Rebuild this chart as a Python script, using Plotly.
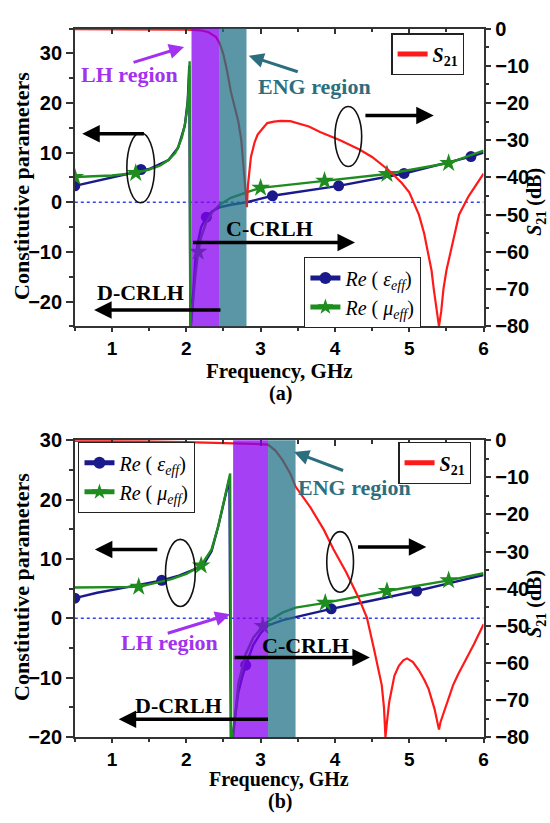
import plotly.graph_objects as go

# ---------------- data : panel (a) ----------------
s21_a_x = [0.5, 1.0, 1.5, 2.0, 2.2, 2.3, 2.4, 2.45, 2.5, 2.55, 2.6, 2.65, 2.7, 2.74, 2.78, 2.8, 2.815,
           2.83, 2.87, 2.92, 2.96, 3.03, 3.09, 3.18, 3.27, 3.4, 3.5, 3.65, 3.8, 4.07, 4.33, 4.5, 4.72,
           4.9, 5.0, 5.13, 5.2, 5.25, 5.3, 5.33, 5.37, 5.40, 5.43, 5.46, 5.5, 5.56, 5.62, 5.67, 5.8, 5.9, 6.0]
s21_a_y = [-0.2, -0.2, -0.2, -0.3, -0.5, -1.0, -2.3, -4.0, -7.0, -11.5, -17, -21, -25, -30, -39, -43, -48,
           -42, -34.5, -30.5, -28.5, -26.8, -25.4, -25.0, -24.8, -24.9, -25.4, -26.3, -27.8, -30, -32.5, -34.5, -38,
           -41.5, -44, -50, -55, -60, -65, -70, -76, -80, -76, -70, -65, -60, -55, -50, -45, -42, -39]

eps_a_x = [0.5, 0.7, 0.9, 1.1, 1.3, 1.5, 1.76, 1.89, 1.98, 2.02, 2.04, 2.055, 2.09, 2.12, 2.15, 2.2,
           2.27, 2.35, 2.45, 2.6, 2.81, 3.16, 4.05, 4.93, 5.83, 6.0]
eps_a_y = [3.3, 4.0, 4.6, 5.3, 6.1, 6.7, 8.5, 11.0, 15.4, 20.5, 27.5, -26, -19, -12, -8.5, -5.0,
           -3.0, -1.8, -1.0, -0.5, 0.0, 1.3, 3.3, 5.8, 9.2, 10.0]
eps_a_mx = [0.5, 1.39, 2.27, 3.16, 4.05, 4.93, 5.83]
eps_a_my = [3.3, 6.6, -3.0, 1.3, 3.3, 5.8, 9.2]

mu_a_x = [0.5, 0.8, 1.0, 1.32, 1.5, 1.65, 1.76, 1.85, 1.89, 1.94, 1.98, 2.01, 2.03, 2.045, 2.055,
          2.08, 2.12, 2.16, 2.2, 2.27, 2.35, 2.45, 2.6, 2.81, 3.0, 3.86, 4.7, 5.53, 6.0]
mu_a_y = [5.1, 5.2, 5.4, 5.9, 6.6, 7.4, 8.5, 9.9, 11.1, 13.0, 15.6, 18.5, 22.5, 28.4, -26,
          -22, -15, -10, -7.0, -4.0, -2.0, -0.5, 0.9, 2.0, 2.9, 4.3, 5.7, 7.9, 10.4]
mu_a_mx = [0.5, 1.32, 2.16, 3.0, 3.86, 4.7, 5.53]
mu_a_my = [5.1, 5.9, -10.0, 2.9, 4.3, 5.7, 7.9]

# ---------------- data : panel (b) ----------------
s21_b_x = [0.5, 1.0, 1.5, 2.0, 2.3, 2.6, 2.9, 3.05, 3.1, 3.2, 3.3, 3.4, 3.47, 3.67, 3.85, 3.98, 4.15,
           4.32, 4.43, 4.53, 4.58, 4.63, 4.66, 4.68, 4.70, 4.73, 4.8, 4.86, 4.92, 4.97, 5.05, 5.13, 5.2,
           5.26, 5.34, 5.38, 5.4, 5.42, 5.47, 5.53, 5.59, 5.66, 5.74, 5.87, 6.0]
s21_b_y = [-0.2, -0.2, -0.3, -0.5, -0.6, -0.9, -1.0, -1.1, -1.2, -2.8, -5.5, -9.0, -12.5, -18.1, -24.1, -29.4, -35.5,
           -42.5, -47.8, -56.7, -61, -66, -72, -80, -76, -70.6, -63.5, -60.8, -59.3, -58.8, -59.8, -62, -64.5,
           -67, -72.4, -76, -78, -76, -73, -69.5, -66, -63, -60, -55, -49.6]

eps_b_x = [0.5, 0.8, 1.1, 1.4, 1.67, 1.9, 2.1, 2.23, 2.34, 2.43, 2.5, 2.55, 2.58, 2.6, 2.62, 2.66,
           2.7, 2.75, 2.8, 2.9, 3.0, 3.1, 3.3, 3.47, 3.95, 4.5, 5.1, 5.6, 6.0]
eps_b_y = [3.4, 4.3, 5.0, 5.7, 6.4, 7.2, 8.2, 9.0, 11.3, 15.5, 19.5, 22.0, 23.5, -22, -20, -16,
           -12.5, -10, -7.9, -4.5, -2.5, -1.2, -0.3, 0.2, 1.6, 3.0, 4.6, 6.1, 7.3]
eps_b_mx = [0.5, 1.67, 2.8, 3.95, 5.1]
eps_b_my = [3.4, 6.4, -7.9, 1.6, 4.6]

mu_b_x = [0.5, 0.9, 1.36, 1.8, 2.0, 2.2, 2.34, 2.43, 2.52, 2.56, 2.59, 2.605, 2.63, 2.7, 2.8, 2.9,
          3.03, 3.1, 3.3, 3.47, 3.87, 4.7, 5.53, 6.0]
mu_b_y = [5.2, 5.2, 5.3, 6.6, 7.5, 8.9, 11.6, 15.5, 20.8, 23.0, 24.4, -22, -20, -11, -6, -3.3,
          -1.3, -0.5, 1.0, 1.8, 2.6, 4.6, 6.4, 7.6]
mu_b_mx = [1.36, 2.2, 3.03, 3.87, 4.7, 5.53]
mu_b_my = [5.3, 8.9, -1.3, 2.6, 4.6, 6.4]

zero_x = [0.5, 6.0]
zero_y = [0.0, 0.0]

# region bounds (GHz)
lh_a = [2.07, 2.45]
eng_a = [2.45, 2.81]
lh_b = [2.63, 3.10]
eng_b = [3.10, 3.47]

x_ticks = [1, 2, 3, 4, 5, 6]
x_minor = [0.5, 1.5, 2.5, 3.5, 4.5, 5.5]
ya_ticks = [-20, -10, 0, 10, 20, 30]
ya_minor = [-25, -15, -5, 5, 15, 25, 35]
yb_ticks = [-20, -10, 0, 10, 20, 30]
yb_minor = [-15, -5, 5, 15, 25]
s_ticks = [0, -10, -20, -30, -40, -50, -60, -70, -80]
s_minor = [-5, -15, -25, -35, -45, -55, -65, -75]

# ---------------- styling ----------------
RED = '#FF1A1A'
BLUE = '#1A1A8C'
GREEN = '#1E8C1E'
PURPLE_FILL = '#8700F1'
TEAL_FILL = '#237387'
PURPLE_TXT = '#A332F0'
TEAL_TXT = '#2D6E7E'
AX = '#333333'
SERIF = 'Liberation Serif'
SANS = 'Liberation Sans'

fig = go.Figure()

def add_panel(xa, ya_l, ya_r, s21x, s21y, ex, ey, emx, emy, mx, my, mmx, mmy, leg_em, leg_s):
    fig.add_trace(go.Scatter(x=zero_x, y=zero_y, mode='lines', xaxis=xa, yaxis=ya_l,
                             line=dict(color='#3344EE', width=1.6, dash='dot'), showlegend=False,
                             hoverinfo='skip'))
    fig.add_trace(go.Scatter(x=s21x, y=s21y, mode='lines', xaxis=xa, yaxis=ya_r,
                             line=dict(color=RED, width=2.2), showlegend=False))
    fig.add_trace(go.Scatter(x=ex, y=ey, mode='lines', xaxis=xa, yaxis=ya_l,
                             line=dict(color=BLUE, width=2.4), showlegend=False))
    fig.add_trace(go.Scatter(x=emx, y=emy, mode='markers', xaxis=xa, yaxis=ya_l,
                             marker=dict(symbol='circle', size=11, color=BLUE), showlegend=False))
    fig.add_trace(go.Scatter(x=mx, y=my, mode='lines', xaxis=xa, yaxis=ya_l,
                             line=dict(color=GREEN, width=2.4), showlegend=False))
    fig.add_trace(go.Scatter(x=mmx, y=mmy, mode='markers', xaxis=xa, yaxis=ya_l,
                             marker=dict(symbol='star', size=14, color=GREEN), showlegend=False))
    # legend entries
    fig.add_trace(go.Scatter(x=[None], y=[None], mode='lines+markers', xaxis=xa, yaxis=ya_l,
                             line=dict(color=BLUE, width=2.4),
                             marker=dict(symbol='circle', size=11, color=BLUE),
                             name='<i>Re</i> ( <i>ε<sub>eff</sub></i>)', legend=leg_em))
    fig.add_trace(go.Scatter(x=[None], y=[None], mode='lines+markers', xaxis=xa, yaxis=ya_l,
                             line=dict(color=GREEN, width=2.4),
                             marker=dict(symbol='star', size=14, color=GREEN),
                             name='<i>Re</i> ( <i>μ<sub>eff</sub></i>)', legend=leg_em))
    fig.add_trace(go.Scatter(x=[None], y=[None], mode='lines', xaxis=xa, yaxis=ya_r,
                             line=dict(color=RED, width=2.2),
                             name='<b><i>S</i><sub>21</sub></b>', legend=leg_s))

add_panel('x', 'y', 'y2', s21_a_x, s21_a_y, eps_a_x, eps_a_y, eps_a_mx, eps_a_my,
          mu_a_x, mu_a_y, mu_a_mx, mu_a_my, 'legend2', 'legend')
add_panel('x2', 'y3', 'y4', s21_b_x, s21_b_y, eps_b_x, eps_b_y, eps_b_mx, eps_b_my,
          mu_b_x, mu_b_y, mu_b_mx, mu_b_my, 'legend3', 'legend4')

XDOM = [75.5 / 550, 488 / 550]
DOM_A = [(823 - 324) / 823, (823 - 18) / 823]
DOM_B = [(823 - 746) / 823, (823 - 441) / 823]

tickfont = dict(family=SANS, size=19, color='black', weight='bold')

def xax(anchor):
    return dict(range=[0.5, 6], domain=XDOM, anchor=anchor, showline=True, linecolor=AX, linewidth=1.5,
                ticks='outside', ticklen=4, tickwidth=1.5, tickcolor=AX, tickmode='array', tickvals=x_ticks,
                minor=dict(tickmode='array', tickvals=x_minor, ticks='outside', ticklen=3, tickcolor=AX),
                tickfont=tickfont, showgrid=False, zeroline=False)

def xtop(anchor, over):
    return dict(range=[0.5, 6], domain=XDOM, anchor=anchor, overlaying=over, side='top', showline=True,
                linecolor=AX, linewidth=1.5, ticks='inside', ticklen=6, tickwidth=1.5, tickcolor=AX,
                tickmode='array', tickvals=x_ticks, showticklabels=False,
                minor=dict(tickmode='array', tickvals=x_minor, ticks='inside', ticklen=4, tickcolor=AX),
                showgrid=False, zeroline=False)

def yleft(dom, rng, tv, mv, anchor):
    return dict(domain=dom, range=rng, anchor=anchor, showline=True, linecolor=AX, linewidth=1.5,
                ticks='outside', ticklen=7, tickwidth=1.5, tickcolor=AX, tickmode='array', tickvals=tv,
                minor=dict(tickmode='array', tickvals=mv, ticks='outside', ticklen=4, tickcolor=AX),
                tickfont=dict(tickfont, size=20), showgrid=False, zeroline=False)

def yright(over, anchor):
    return dict(overlaying=over, side='right', anchor=anchor, range=[-80, 0], showline=True, linecolor=AX,
                linewidth=1.5, ticks='outside', ticklen=6, tickwidth=1.5, tickcolor=AX, tickmode='array',
                tickvals=s_ticks,
                minor=dict(tickmode='array', tickvals=s_minor, ticks='outside', ticklen=4, tickcolor=AX),
                tickfont=dict(tickfont, size=20), showgrid=False, zeroline=False)

legfont = dict(family=SERIF, size=20, color='black')
legbase = dict(bgcolor='white', bordercolor='#222', borderwidth=1.2, font=legfont,
               xanchor='left', yanchor='top', itemsizing='constant', tracegroupgap=0)

fig.update_layout(
    width=550, height=823, margin=dict(l=0, r=0, t=0, b=0),
    paper_bgcolor='white', plot_bgcolor='white',
    xaxis=xax('y'), xaxis2=xax('y3'),
    xaxis3=xtop('y', 'x'), xaxis4=xtop('y3', 'x2'),
    yaxis=yleft(DOM_A, [-25, 35], ya_ticks, ya_minor, 'x'),
    yaxis2=yright('y', 'x'),
    yaxis3=yleft(DOM_B, [-20, 30], yb_ticks, yb_minor, 'x2'),
    yaxis4=yright('y3', 'x2'),
    legend=dict(legbase, x=395 / 550, y=(823 - 23) / 823),
    legend2=dict(legbase, x=307 / 550, y=(823 - 253) / 823),
    legend3=dict(legbase, x=79 / 550, y=(823 - 443) / 823),
    legend4=dict(legbase, x=402 / 550, y=(823 - 443) / 823),
    showlegend=True,
)

# traces on the top axes so they render
fig.add_trace(go.Scatter(x=[None], y=[None], xaxis='x3', yaxis='y', showlegend=False))
fig.add_trace(go.Scatter(x=[None], y=[None], xaxis='x4', yaxis='y3', showlegend=False))

# shaded regions
for (xr, ydom, rng) in [('x', 'y domain', lh_a), ('x2', 'y3 domain', lh_b)]:
    fig.add_shape(type='rect', xref=xr, yref=ydom, x0=rng[0], x1=rng[1], y0=0, y1=1,
                  fillcolor=PURPLE_FILL, opacity=0.75, line_width=0, layer='above')
for (xr, ydom, rng) in [('x', 'y domain', eng_a), ('x2', 'y3 domain', eng_b)]:
    fig.add_shape(type='rect', xref=xr, yref=ydom, x0=rng[0], x1=rng[1], y0=0, y1=1,
                  fillcolor=TEAL_FILL, opacity=0.75, line_width=0, layer='above')

# ellipses
ell = [('x', 'y', 1.2, 1.573, -0.1, 14.0), ('x', 'y', 4.0, 4.36, 7.2, 19.3),
       ('x2', 'y3', 1.72, 2.12, 2.0, 13.3), ('x2', 'y3', 3.89, 4.25, 4.4, 14.6)]
for xr, yr, x0, x1, y0, y1 in ell:
    fig.add_shape(type='circle', xref=xr, yref=yr, x0=x0, x1=x1, y0=y0, y1=y1,
                  line=dict(color='#111', width=1.6), layer='above')

def arrow(xr, yr, tail, head, color='black', width=3.5):
    fig.add_annotation(xref=xr, yref=yr, axref=xr, ayref=yr, x=head[0], y=head[1], ax=tail[0], ay=tail[1],
                       text='', showarrow=True, arrowhead=2, arrowsize=1.0, arrowwidth=width,
                       arrowcolor=color, standoff=0, startstandoff=0)

def label(xr, yr, x, y, text, color='black', size=22):
    fig.add_annotation(xref=xr, yref=yr, x=x, y=y, text=text, showarrow=False,
                       font=dict(family=SERIF, size=size, color=color, weight='bold'))

# panel (a)
arrow('x', 'y', (1.27, 28.1), (1.97, 31.3), PURPLE_TXT, 3)
arrow('x', 'y', (3.52, 26.2), (2.84, 29.5), TEAL_TXT, 3)
arrow('x', 'y', (1.45, 13.8), (0.6, 13.8))
arrow('x', 'y', (4.39, 17.5), (5.33, 17.5))
arrow('x', 'y', (2.07, -8.1), (4.27, -8.1))
arrow('x', 'y', (2.48, -21.7), (0.76, -21.7))
label('x', 'y', 1.24, 25.8, 'LH region', PURPLE_TXT)
label('x', 'y', 3.72, 23.4, 'ENG region', TEAL_TXT)
label('x', 'y', 3.12, -5.2, 'C-CRLH')
label('x', 'y', 1.39, -18.1, 'D-CRLH')

# panel (b)
arrow('x2', 'y3', (1.73, -2.6), (2.59, 0.7), PURPLE_TXT, 3)
arrow('x2', 'y3', (4.13, 24.8), (3.45, 28.0), TEAL_TXT, 3)
arrow('x2', 'y3', (1.63, 11.6), (0.77, 11.6))
arrow('x2', 'y3', (4.29, 12.0), (5.23, 12.0))
arrow('x2', 'y3', (2.63, -6.6), (4.47, -6.6))
arrow('x2', 'y3', (3.12, -17.0), (1.09, -17.0))
label('x2', 'y3', 1.77, -4.1, 'LH region', PURPLE_TXT)
label('x2', 'y3', 4.27, 22.1, 'ENG region', TEAL_TXT)
label('x2', 'y3', 3.6, -4.6, 'C-CRLH')
label('x2', 'y3', 1.9, -14.6, 'D-CRLH')

# axis titles
def ptext(x, y, text, angle=0, size=20):
    fig.add_annotation(xref='paper', yref='paper', x=x / 550, y=(823 - y) / 823, text=text,
                       showarrow=False, textangle=angle, xanchor='center', yanchor='middle',
                       font=dict(family=SERIF, size=size, color='black', weight='bold'))

ptext(282, 370, 'Frequency, GHz', size=21)
ptext(283, 393, '(a)')
ptext(282, 790, 'Frequency, GHz')
ptext(283, 812, '(b)')
ptext(21, 180, 'Constitutive parameters', -90, 22)
ptext(21, 592, 'Constitutive parameters', -90, 22)
ptext(541, 196, '<i>S</i><sub>21</sub> (dB)', -90, 20)
ptext(541, 609, '<i>S</i><sub>21</sub> (dB)', -90, 20)

fig.write_html('out.html')
